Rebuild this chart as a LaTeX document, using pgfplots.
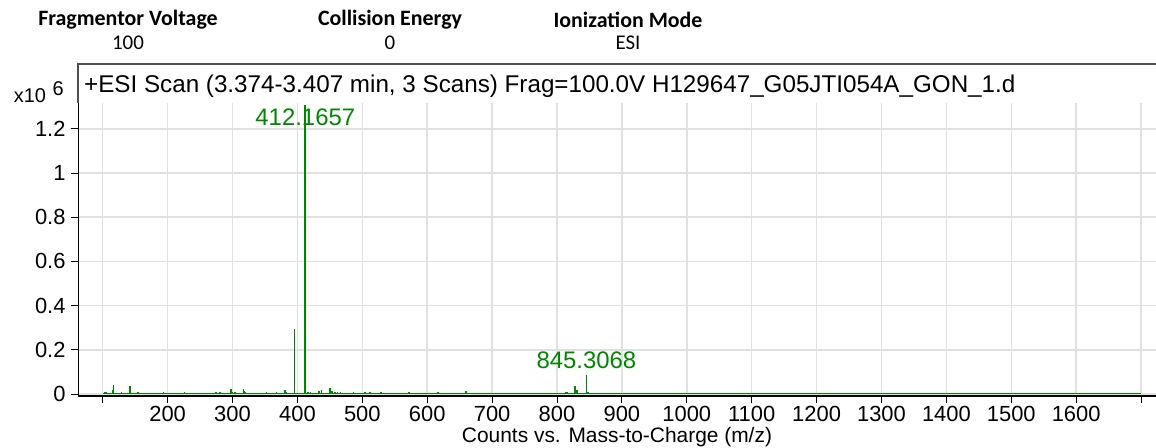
\documentclass[border=0pt]{standalone}
\usepackage{pgfplots}
\pgfplotsset{compat=1.18}
\usepackage{fontspec}
\setmainfont{Liberation Sans}
\newfontfamily\hdrfont{Carlito}
\definecolor{specgreen}{RGB}{0,135,0}
\definecolor{gridgray}{RGB}{225,225,225}
\definecolor{framegray}{RGB}{80,80,80}
\begin{document}
\begin{tikzpicture}
\useasboundingbox (0,0) rectangle (1156bp,-448bp);
% header
\node[font=\hdrfont\bfseries\fontsize{22}{24}\selectfont] at (128bp,-20bp) {Fragmentor Voltage};
\node[font=\hdrfont\fontsize{21}{23}\selectfont] at (128bp,-43bp) {100};
\node[font=\hdrfont\bfseries\fontsize{22}{24}\selectfont] at (390bp,-20bp) {Collision Energy};
\node[font=\hdrfont\fontsize{21}{23}\selectfont] at (390bp,-43bp) {0};
\node[font=\hdrfont\bfseries\fontsize{22}{24}\selectfont] at (628bp,-20bp) {Ionization Mode};
\node[font=\hdrfont\fontsize{21}{23}\selectfont] at (628bp,-43bp) {ESI};
\node[anchor=east,font=\fontsize{20}{22}\selectfont,inner sep=0pt] at (64bp,-92bp) {x10\,\,\raisebox{0.6ex}{6}};
\begin{axis}[
  at={(78bp,-395.5bp)}, anchor=south west,
  scale only axis, width=1078bp, height=292.5bp,
  xmin=61.9, xmax=1723, ymin=-0.0068, ymax=1.317,
  axis x line*=bottom, axis y line*=left,
  x axis line style={black, line width=2bp},
  y axis line style={black, line width=1bp},
  xtick={100,200,...,1700},
  xticklabels={,200,300,400,500,600,700,800,900,1000,1100,1200,1300,1400,1500,1600,},
  ytick={0,0.2,0.4,0.6,0.8,1,1.2},
  yticklabels={0,0.2,0.4,0.6,0.8,1,1.2},
  tick align=outside, major tick length=7bp,
  tick style={black, line width=1bp},
  xmajorgrids, ymajorgrids,
  grid style={gridgray, line width=1.5bp},
  ticklabel style={font=\fontsize{22}{24}\selectfont},
  xticklabel style={yshift=0bp},
  yticklabel style={xshift=-2bp},
  /pgf/number format/assume math mode=true,
  xlabel={Counts vs. Mass-to-Charge (m/z)},
  xlabel style={font=\fontsize{21}{23}\selectfont, yshift=1bp},
  clip=false,
]
\addplot[draw=specgreen, line width=1.4bp] coordinates {(100,0.002) (1700,0.002)};
\addplot[draw=specgreen, line width=1.4bp, ycomb] coordinates {
(103.7,0.008) (105,0.01) (114.8,0.017) (116.4,0.04) (128.7,0.01) (142,0.035)
(154.4,0.01) (193.4,0.008) (225.8,0.008) (274.6,0.008) (280.7,0.01) (297.7,0.022)
(300,0.01) (303.9,0.01) (316.7,0.022) (318.8,0.012) (320.3,0.01) (352.7,0.008)
(368,0.008) (381,0.02) (383,0.008) (395.2,0.295) (416,0.01) (420,0.008)
(424,0.006) (433,0.012) (437.5,0.02) (440,0.006) (450,0.027) (453,0.015) (458,0.01)
(462,0.008) (466,0.008) (486,0.008) (504,0.008) (512,0.008) (529,0.01) (571.5,0.01)
(573,0.008) (615.6,0.01) (617.5,0.008) (659.8,0.012) (705,0.006) (749,0.006)
(766,0.006) (793,0.006) (813,0.008) (815.6,0.008) (828,0.035) (831,0.02)
(845.3,0.085) (848,0.01)
};
\addplot[draw=specgreen, line width=1.8bp, sharp plot] coordinates {(412.17,0) (412.17,1.31)};
\node[text=specgreen, font=\fontsize{24}{26}\selectfont] at (axis cs:412.17,1.253) {412.1657};
\node[text=specgreen, font=\fontsize{24}{26}\selectfont] at (axis cs:845.3,0.152) {845.3068};
% title frame
\draw[framegray, line width=1.2bp] (rel axis cs:0,1) -- ([yshift=39bp]rel axis cs:0,1) -- ([yshift=39bp]rel axis cs:1.01,1);
\node[anchor=west, font=\fontsize{24.3}{26}\selectfont, inner sep=0pt] at ([xshift=6bp,yshift=17bp]rel axis cs:0,1) {+ESI Scan (3.374-3.407 min, 3 Scans) Frag=100.0V H129647\_G05JTI054A\_GON\_1.d};
\end{axis}
\end{tikzpicture}
\end{document}
